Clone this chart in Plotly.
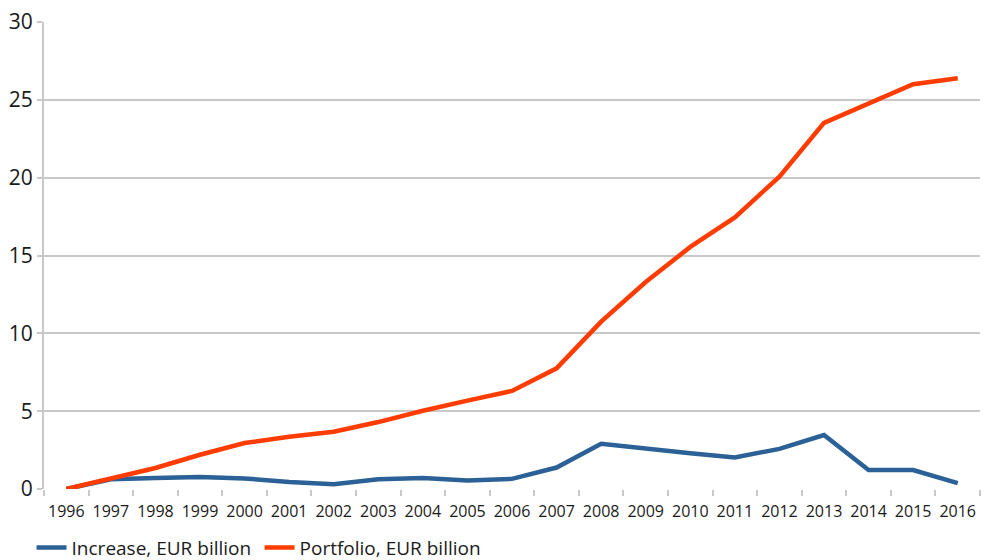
import plotly.graph_objects as go

years = [str(y) for y in range(1996, 2017)]
increase = [0.0, 0.62, 0.7, 0.77, 0.68, 0.45, 0.3, 0.62, 0.7, 0.55, 0.65,
            1.38, 2.9, 2.57, 2.3, 2.03, 2.58, 3.47, 1.22, 1.22, 0.38]
portfolio = [0.0, 0.65, 1.35, 2.2, 2.95, 3.35, 3.68, 4.3, 5.03, 5.68, 6.3,
             7.75, 10.75, 13.3, 15.55, 17.45, 20.07, 23.52, 24.77, 26.0, 26.38]
y_ticks = [0, 5, 10, 15, 20, 25, 30]

BLUE = "#2b6196"
ORANGE = "#ff3c00"
GRID = "#c8c8c8"
FONT = "Open Sans"

fig = go.Figure()
fig.add_trace(go.Scatter(x=years, y=increase, mode="lines",
                         name="Increase, EUR billion",
                         line=dict(color=BLUE, width=4.5)))
fig.add_trace(go.Scatter(x=years, y=portfolio, mode="lines",
                         name="Portfolio, EUR billion",
                         line=dict(color=ORANGE, width=4.5)))

fig.update_layout(
    width=986, height=560,
    margin=dict(l=44, r=6, t=22, b=71, autoexpand=False),
    paper_bgcolor="white", plot_bgcolor="white",
    font=dict(family=FONT, color="#1a1a1a"),
    showlegend=True,
    legend=dict(orientation="h", xref="container", yref="container",
                x=0.032, y=0.022, xanchor="left", yanchor="middle",
                font=dict(size=19, family=FONT, color="#1a1a1a"),
                itemwidth=30, entrywidth=183, entrywidthmode="pixels"),
)
fig.update_xaxes(
    type="category", range=[-0.5, 20.5], automargin=False,
    showgrid=False, showline=False, zeroline=False,
    ticks="outside", tickson="boundaries", ticklen=6, tickwidth=2,
    tickcolor=GRID, tickangle=0, ticklabelstandoff=11,
    tickfont=dict(size=16, family=FONT, color="#1a1a1a"),
)
fig.update_yaxes(
    range=[0, 30], tickvals=y_ticks, automargin=False,
    showgrid=True, gridcolor=GRID, gridwidth=2,
    showline=True, linecolor=GRID, linewidth=2,
    zeroline=False,
    ticks="outside", ticklen=5, tickwidth=2, tickcolor=GRID,
    tickfont=dict(size=21, family=FONT, color="#1a1a1a"),
)

fig.write_html("out.html")
